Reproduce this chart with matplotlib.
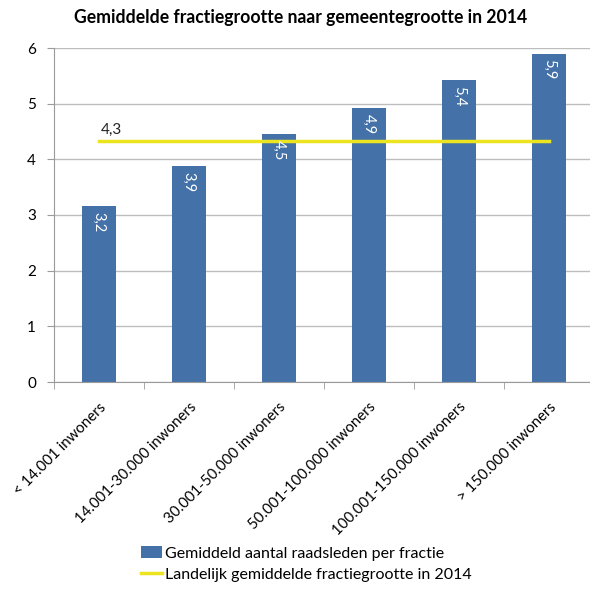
import matplotlib.pyplot as plt
import numpy as np

# Data
categories = ['< 14.001 inwoners', '14.001-30.000 inwoners', '30.001-50.000 inwoners',
              '50.001-100.000 inwoners', '100.001-150.000 inwoners', '> 150.000 inwoners']
values = [3.16, 3.88, 4.45, 4.92, 5.42, 5.9]
value_labels = ['3,2', '3,9', '4,5', '4,9', '5,4', '5,9']
landelijk = 4.33
landelijk_label = '4,3'

plt.rcParams['font.family'] = ['Lato', 'DejaVu Sans']

fig = plt.figure(figsize=(5.9, 5.94), dpi=100)
ax = fig.add_axes([54 / 590, 1 - 382 / 594, 540 / 590, 334 / 594])

x = np.arange(len(categories))
bar_color = '#4472a8'
line_color = '#ece41e'

bars = ax.bar(x, values, width=0.38, color=bar_color, zorder=2,
              label='Gemiddeld aantal raadsleden per fractie')
line, = ax.plot(x, [landelijk] * len(x), color=line_color, linewidth=2.5, zorder=3,
                label='Landelijk gemiddelde fractiegrootte in 2014')

# labels in de staven (gedraaid)
for xi, v, lab in zip(x, values, value_labels):
    ax.text(xi, v - 0.1, lab, rotation=270, ha='center', va='top',
            color='white', fontsize=10.5)

ax.text(x[0] + 0.02, landelijk + 0.08, landelijk_label, ha='left', va='bottom',
        fontsize=11, color='#222222')

ax.set_xlim(-0.5, len(x) - 0.5)
ax.set_ylim(0, 6)
ax.set_yticks(range(0, 7))
ax.yaxis.grid(True, color='#bdbdbd', linewidth=1)
ax.set_axisbelow(True)

for s in ['top', 'right']:
    ax.spines[s].set_visible(False)
ax.spines['left'].set_color('#9a9a9a')
ax.spines['bottom'].set_color('#9a9a9a')

ax.set_xticks(x)
ax.set_xticklabels(categories, rotation=45, ha='right', rotation_mode='anchor',
                   fontsize=10.8)
ax.set_xticks(np.arange(-0.5, len(x)), minor=True)
ax.tick_params(axis='x', which='major', length=0, pad=13)
ax.tick_params(axis='x', which='minor', length=5, color='#9a9a9a')
ax.tick_params(axis='y', length=5, color='#9a9a9a', labelsize=11, pad=8)

fig.suptitle('Gemiddelde fractiegrootte naar gemeentegrootte in 2014',
             x=0.51, y=1 - 18 / 594, va='center', fontsize=12.7, fontweight='bold')

fig.legend([bars, line], [bars.get_label(), line.get_label()],
           loc='upper left', bbox_to_anchor=(135 / 590, 1 - 540 / 594),
           frameon=False, fontsize=11.5, handlelength=1.3, handletextpad=0.2,
           labelspacing=0.45, borderaxespad=0)

fig.savefig('out.png', dpi=100)
